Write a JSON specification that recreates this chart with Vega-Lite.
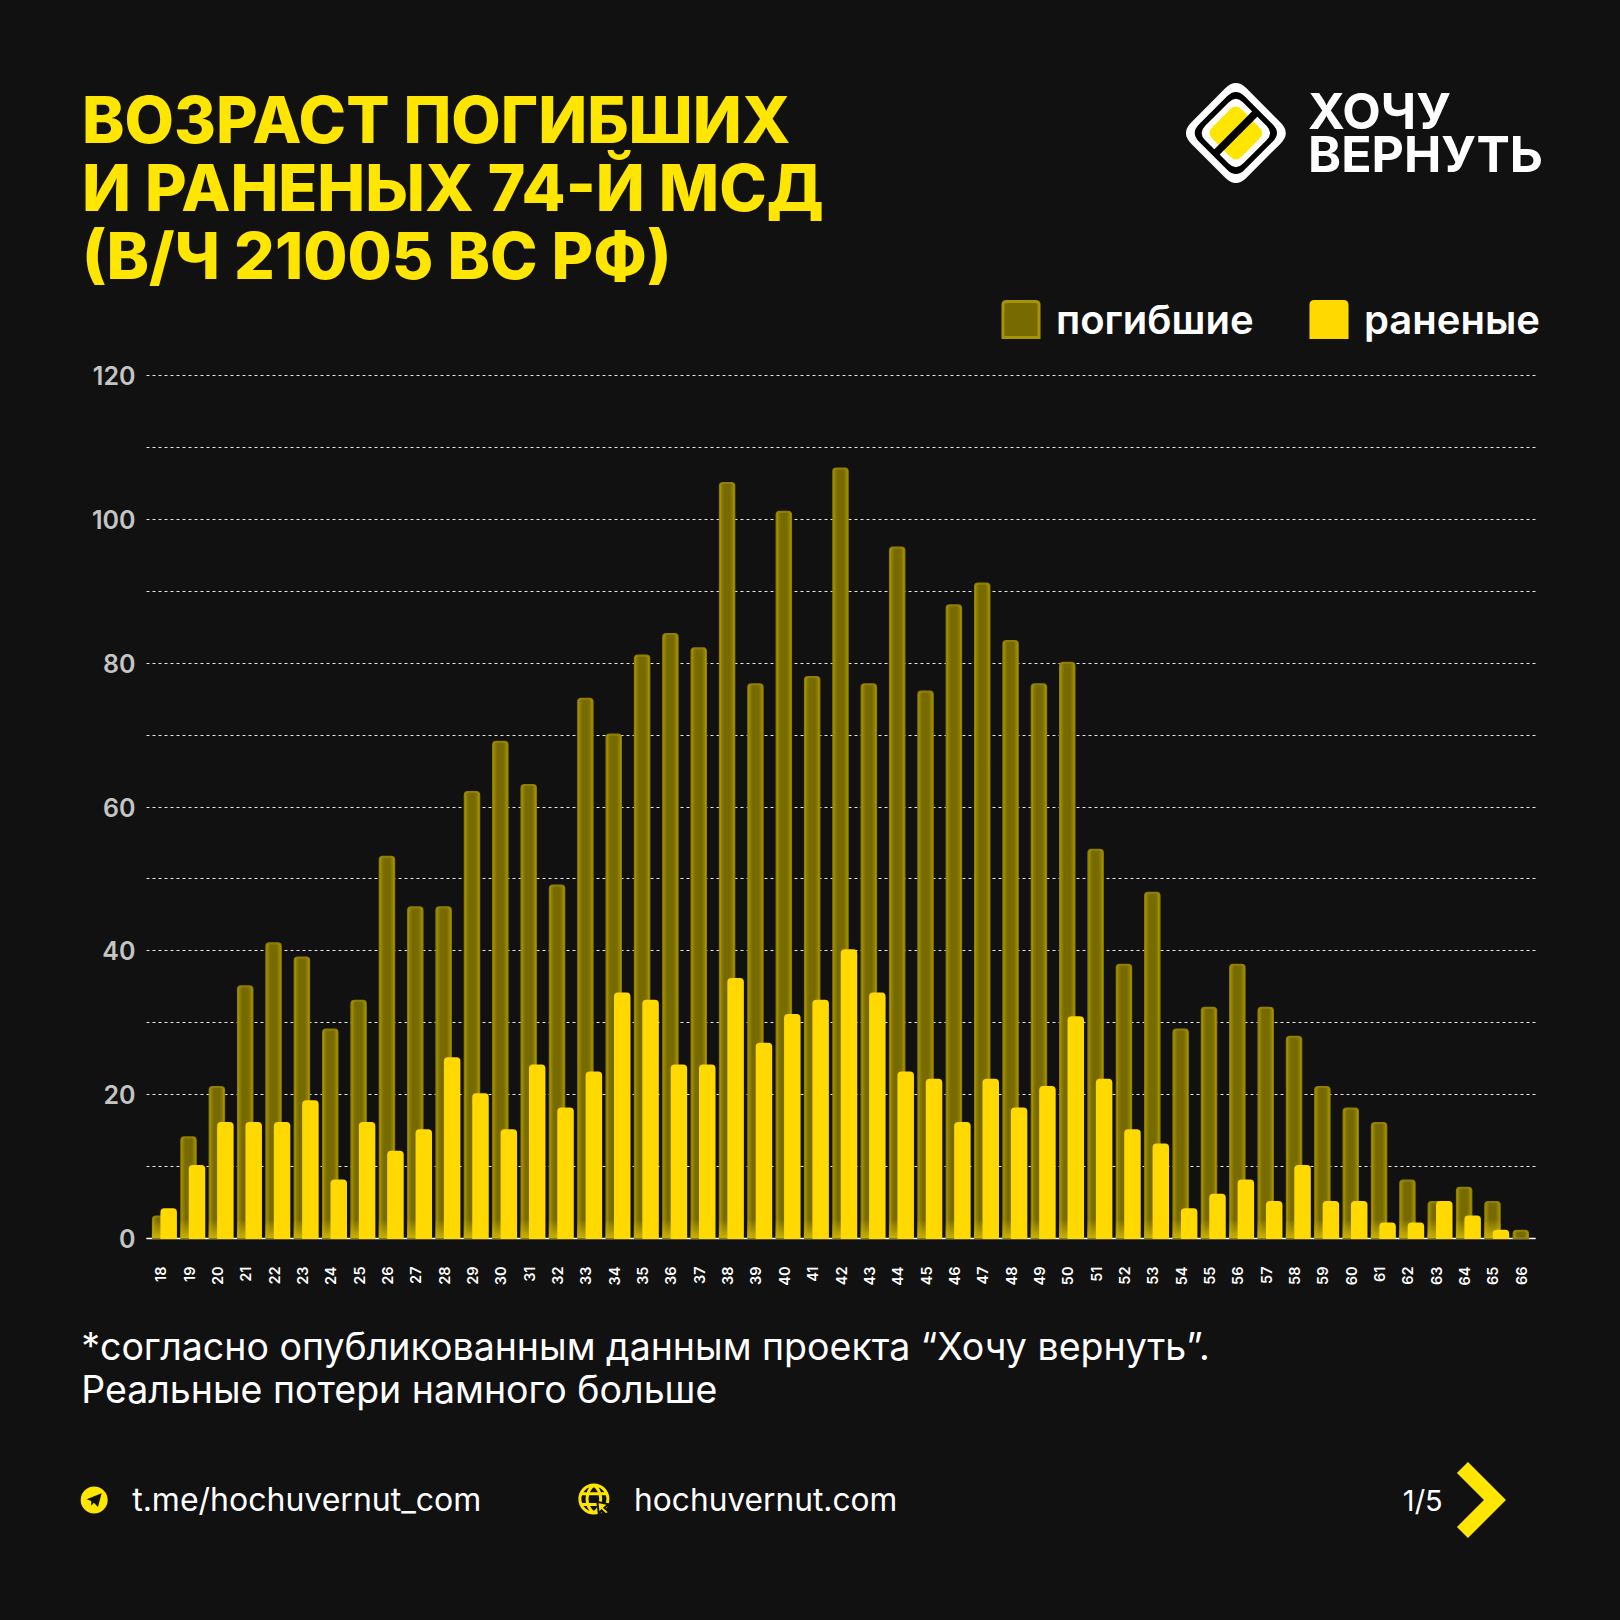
{
  "$schema": "https://vega.github.io/schema/vega-lite/v6.json",
  "width": 1389,
  "height": 863,
  "autosize": "none",
  "padding": {"left": 146, "top": 375, "right": 85, "bottom": 382},
  "background": "#111111",
  "config": {"view": {"stroke": null}, "font": "Inter"},
  "title": {
    "text": ["ВОЗРАСТ ПОГИБШИХ", "И РАНЕНЫХ 74-Й МСД", "(В/Ч 21005 ВС РФ)"],
    "anchor": "start", "frame": "group", "orient": "top", "align": "left",
    "dx": -64, "offset": -209, "color": "#FFE600", "font": "Inter",
    "fontSize": 64, "fontWeight": 800, "lineHeight": 68
  },
  "data": {"values": [
    {"age": 18, "group": "погибшие", "value": 3}, {"age": 18, "group": "раненые", "value": 4},
    {"age": 19, "group": "погибшие", "value": 14}, {"age": 19, "group": "раненые", "value": 10},
    {"age": 20, "group": "погибшие", "value": 21}, {"age": 20, "group": "раненые", "value": 16},
    {"age": 21, "group": "погибшие", "value": 35}, {"age": 21, "group": "раненые", "value": 16},
    {"age": 22, "group": "погибшие", "value": 41}, {"age": 22, "group": "раненые", "value": 16},
    {"age": 23, "group": "погибшие", "value": 39}, {"age": 23, "group": "раненые", "value": 19},
    {"age": 24, "group": "погибшие", "value": 29}, {"age": 24, "group": "раненые", "value": 8},
    {"age": 25, "group": "погибшие", "value": 33}, {"age": 25, "group": "раненые", "value": 16},
    {"age": 26, "group": "погибшие", "value": 53}, {"age": 26, "group": "раненые", "value": 12},
    {"age": 27, "group": "погибшие", "value": 46}, {"age": 27, "group": "раненые", "value": 15},
    {"age": 28, "group": "погибшие", "value": 46}, {"age": 28, "group": "раненые", "value": 25},
    {"age": 29, "group": "погибшие", "value": 62}, {"age": 29, "group": "раненые", "value": 20},
    {"age": 30, "group": "погибшие", "value": 69}, {"age": 30, "group": "раненые", "value": 15},
    {"age": 31, "group": "погибшие", "value": 63}, {"age": 31, "group": "раненые", "value": 24},
    {"age": 32, "group": "погибшие", "value": 49}, {"age": 32, "group": "раненые", "value": 18},
    {"age": 33, "group": "погибшие", "value": 75}, {"age": 33, "group": "раненые", "value": 23},
    {"age": 34, "group": "погибшие", "value": 70}, {"age": 34, "group": "раненые", "value": 34},
    {"age": 35, "group": "погибшие", "value": 81}, {"age": 35, "group": "раненые", "value": 33},
    {"age": 36, "group": "погибшие", "value": 84}, {"age": 36, "group": "раненые", "value": 24},
    {"age": 37, "group": "погибшие", "value": 82}, {"age": 37, "group": "раненые", "value": 24},
    {"age": 38, "group": "погибшие", "value": 105}, {"age": 38, "group": "раненые", "value": 36},
    {"age": 39, "group": "погибшие", "value": 77}, {"age": 39, "group": "раненые", "value": 27},
    {"age": 40, "group": "погибшие", "value": 101}, {"age": 40, "group": "раненые", "value": 31},
    {"age": 41, "group": "погибшие", "value": 78}, {"age": 41, "group": "раненые", "value": 33},
    {"age": 42, "group": "погибшие", "value": 107}, {"age": 42, "group": "раненые", "value": 40},
    {"age": 43, "group": "погибшие", "value": 77}, {"age": 43, "group": "раненые", "value": 34},
    {"age": 44, "group": "погибшие", "value": 96}, {"age": 44, "group": "раненые", "value": 23},
    {"age": 45, "group": "погибшие", "value": 76}, {"age": 45, "group": "раненые", "value": 22},
    {"age": 46, "group": "погибшие", "value": 88}, {"age": 46, "group": "раненые", "value": 16},
    {"age": 47, "group": "погибшие", "value": 91}, {"age": 47, "group": "раненые", "value": 22},
    {"age": 48, "group": "погибшие", "value": 83}, {"age": 48, "group": "раненые", "value": 18},
    {"age": 49, "group": "погибшие", "value": 77}, {"age": 49, "group": "раненые", "value": 21},
    {"age": 50, "group": "погибшие", "value": 80}, {"age": 50, "group": "раненые", "value": 30.7},
    {"age": 51, "group": "погибшие", "value": 54}, {"age": 51, "group": "раненые", "value": 22},
    {"age": 52, "group": "погибшие", "value": 38}, {"age": 52, "group": "раненые", "value": 15},
    {"age": 53, "group": "погибшие", "value": 48}, {"age": 53, "group": "раненые", "value": 13},
    {"age": 54, "group": "погибшие", "value": 29}, {"age": 54, "group": "раненые", "value": 4},
    {"age": 55, "group": "погибшие", "value": 32}, {"age": 55, "group": "раненые", "value": 6},
    {"age": 56, "group": "погибшие", "value": 38}, {"age": 56, "group": "раненые", "value": 8},
    {"age": 57, "group": "погибшие", "value": 32}, {"age": 57, "group": "раненые", "value": 5},
    {"age": 58, "group": "погибшие", "value": 28}, {"age": 58, "group": "раненые", "value": 10},
    {"age": 59, "group": "погибшие", "value": 21}, {"age": 59, "group": "раненые", "value": 5},
    {"age": 60, "group": "погибшие", "value": 18}, {"age": 60, "group": "раненые", "value": 5},
    {"age": 61, "group": "погибшие", "value": 16}, {"age": 61, "group": "раненые", "value": 2},
    {"age": 62, "group": "погибшие", "value": 8}, {"age": 62, "group": "раненые", "value": 2},
    {"age": 63, "group": "погибшие", "value": 5}, {"age": 63, "group": "раненые", "value": 5},
    {"age": 64, "group": "погибшие", "value": 7}, {"age": 64, "group": "раненые", "value": 3},
    {"age": 65, "group": "погибшие", "value": 5}, {"age": 65, "group": "раненые", "value": 1},
    {"age": 66, "group": "погибшие", "value": 1}
  ]},
  "layer": [
    {
      "transform": [{"filter": "datum.group == 'погибшие'"}],
      "mark": {"type": "bar", "width": 14.5, "stroke": "#8f7e00", "strokeWidth": 2, "cornerRadiusTopLeft": 3, "cornerRadiusTopRight": 3},
      "encoding": {
        "x": {
          "field": "age", "type": "ordinal",
          "scale": {"paddingInner": 0, "paddingOuter": 0},
          "axis": {
            "title": null, "labelAngle": -90, "labelAlign": "right", "labelBaseline": "middle",
            "labelColor": "#ffffff", "labelFont": "Inter", "labelFontSize": 14.5, "labelFontWeight": 600,
            "labelPadding": 28, "labelOffset": 2, "ticks": false, "domainColor": "#ffffff", "domainWidth": 1.5, "grid": false
          }
        },
        "y": {
          "field": "value", "type": "quantitative",
          "scale": {"domain": [0, 120], "nice": false},
          "axis": {
            "title": null, "values": [0, 10, 20, 30, 40, 50, 60, 70, 80, 90, 100, 110, 120],
            "labelExpr": "datum.value % 20 == 0 ? datum.label : ''",
            "labelColor": "#c4c4c4", "labelFont": "Inter", "labelFontSize": 25, "labelFontWeight": 600,
            "labelPadding": 11, "labelOffset": 1.5, "ticks": false, "domain": false,
            "grid": true, "gridColor": "#e6e6e6", "gridDash": [3, 3], "gridWidth": 1.2
          }
        },
        "color": {
          "field": "group", "type": "nominal",
          "scale": {"domain": ["погибшие", "раненые"], "range": ["#776a00", "#FFD900"]},
          "legend": {
            "title": null, "orient": "none", "legendX": 855, "legendY": -76, "direction": "horizontal",
            "symbolType": "M-1,1 L-1,-0.8 Q-1,-1 -0.8,-1 L0.8,-1 Q1,-1 1,-0.8 L1,1 Z",
            "symbolSize": 1300, "symbolOpacity": 1,
            "labelFont": "Inter", "labelFontSize": 40, "labelFontWeight": 600, "labelColor": "#ffffff",
            "labelOffset": 15, "columnPadding": 50, "labelLimit": 300,
            "encoding": {
              "symbols": {
                "stroke": {"value": {"expr": "datum.value == 'погибшие' ? '#a89400' : '#FFD900'"}},
                "strokeWidth": {"value": 3}
              },
              "labels": {"dy": {"value": 3}}
            }
          }
        }
      }
    },
    {
      "transform": [{"filter": "datum.group == 'погибшие'"}],
      "mark": {"type": "bar", "width": 14.5, "cornerRadiusTopLeft": 3, "cornerRadiusTopRight": 3,
        "color": {"gradient": "linear", "x1": 0, "y1": 0, "x2": 1, "y2": 0, "stops": [
          {"offset": 0, "color": "rgba(190,168,0,0.55)"}, {"offset": 0.3, "color": "rgba(190,168,0,0)"},
          {"offset": 0.7, "color": "rgba(190,168,0,0)"}, {"offset": 1, "color": "rgba(190,168,0,0.55)"}
        ]}},
      "encoding": {
        "x": {"field": "age", "type": "ordinal"},
        "y": {"field": "value", "type": "quantitative"}
      }
    },
    {
      "transform": [{"filter": "datum.group == 'погибшие' && datum.value >= 3"}],
      "mark": {"type": "bar", "width": 16.5, "color": {"gradient": "linear", "x1": 0, "y1": 0, "x2": 0, "y2": 1, "stops": [
        {"offset": 0, "color": "rgba(200,176,0,0)"}, {"offset": 1, "color": "rgba(200,176,0,1)"}
      ]}},
      "encoding": {
        "x": {"field": "age", "type": "ordinal"},
        "y": {"datum": 2.6, "type": "quantitative"},
        "y2": {"datum": 0}
      }
    },
    {
      "transform": [{"filter": "datum.group == 'раненые'"}],
      "mark": {"type": "bar", "width": 14.5, "xOffset": 8.5, "stroke": "#FFD900", "strokeWidth": 2, "cornerRadiusTopLeft": 3, "cornerRadiusTopRight": 3},
      "encoding": {
        "x": {"field": "age", "type": "ordinal"},
        "y": {"field": "value", "type": "quantitative"},
        "color": {"field": "group", "type": "nominal"}
      }
    },
    {
      "data": {"values": [{"label": "ХОЧУ"}]},
      "mark": {"type": "text", "align": "left", "baseline": "alphabetic", "dx": 14, "font": "Inter", "fontSize": 50, "fontWeight": 700, "color": "#ffffff"},
      "encoding": {"x": {"datum": 58, "type": "ordinal"}, "y": {"datum": 154.2, "type": "quantitative"}, "text": {"field": "label"}}
    },
    {
      "data": {"values": [{"label": "ВЕРНУТЬ"}]},
      "mark": {"type": "text", "align": "left", "baseline": "alphabetic", "dx": 14, "font": "Inter", "fontSize": 50, "fontWeight": 700, "color": "#ffffff"},
      "encoding": {"x": {"datum": 58, "type": "ordinal"}, "y": {"datum": 148.2, "type": "quantitative"}, "text": {"field": "label"}}
    },
    {
      "data": {"values": [{"label": "*согласно опубликованным данным проекта “Хочу вернуть”."}]},
      "mark": {"type": "text", "align": "left", "baseline": "alphabetic", "dx": -79, "font": "Inter", "fontSize": 37.5, "fontWeight": 400, "color": "#ffffff"},
      "encoding": {"x": {"datum": 18, "type": "ordinal"}, "y": {"datum": -16.96, "type": "quantitative"}, "text": {"field": "label"}}
    },
    {
      "data": {"values": [{"label": "Реальные потери намного больше"}]},
      "mark": {"type": "text", "align": "left", "baseline": "alphabetic", "dx": -79, "font": "Inter", "fontSize": 37.5, "fontWeight": 400, "color": "#ffffff"},
      "encoding": {"x": {"datum": 18, "type": "ordinal"}, "y": {"datum": -22.94, "type": "quantitative"}, "text": {"field": "label"}}
    },
    {
      "data": {"values": [{"label": "t.me/hochuvernut_com"}]},
      "mark": {"type": "text", "align": "left", "baseline": "alphabetic", "dx": -28, "font": "Inter", "fontSize": 32, "fontWeight": 400, "color": "#ffffff"},
      "encoding": {"x": {"datum": 18, "type": "ordinal"}, "y": {"datum": -37.9, "type": "quantitative"}, "text": {"field": "label"}}
    },
    {
      "data": {"values": [{"label": "hochuvernut.com"}]},
      "mark": {"type": "text", "align": "left", "baseline": "alphabetic", "dx": -8, "font": "Inter", "fontSize": 31.7, "fontWeight": 400, "color": "#ffffff"},
      "encoding": {"x": {"datum": 35, "type": "ordinal"}, "y": {"datum": -37.9, "type": "quantitative"}, "text": {"field": "label"}}
    },
    {
      "data": {"values": [{"label": "1/5"}]},
      "mark": {"type": "text", "align": "left", "baseline": "alphabetic", "dx": -4.6, "font": "Inter", "fontSize": 29, "fontWeight": 400, "color": "#ffffff"},
      "encoding": {"x": {"datum": 62, "type": "ordinal"}, "y": {"datum": -37.9, "type": "quantitative"}, "text": {"field": "label"}}
    },
    {
      "data": {"values": [{"part": "chevron"}]},
      "mark": {"type": "point", "filled": true, "opacity": 1, "size": 5776, "xOffset": -11, "color": "#FFE600",
        "shape": "M-0.355,-1 L0.645,0 L-0.355,1 L-0.645,0.71 L0.066,0 L-0.645,-0.71 Z"},
      "encoding": {"x": {"datum": 65, "type": "ordinal"}, "y": {"datum": -36.43, "type": "quantitative"}}
    },
    {
      "data": {"values": [{"part": "telegram circle"}]},
      "mark": {"type": "point", "filled": true, "opacity": 1, "size": 729, "xOffset": -66, "color": "#FFE600", "shape": "circle"},
      "encoding": {"x": {"datum": 18, "type": "ordinal"}, "y": {"datum": -36.43, "type": "quantitative"}}
    },
    {
      "data": {"values": [{"part": "telegram plane"}]},
      "mark": {"type": "point", "filled": true, "opacity": 1, "size": 729, "xOffset": -66, "color": "#111111",
        "shape": "M0.55,-0.5 L0.28,0.52 L-0.02,0.2 L-0.22,0.42 L-0.22,0.08 L-0.55,-0.05 Z"},
      "encoding": {"x": {"datum": 18, "type": "ordinal"}, "y": {"datum": -36.43, "type": "quantitative"}}
    },
    {
      "data": {"values": [{"part": "globe"}]},
      "mark": {"type": "point", "filled": false, "opacity": 1, "size": 784, "xOffset": 8.5, "stroke": "#FFE600", "strokeWidth": 3,
        "shape": "M-1,0 A1,1 0 1,1 1,0 A1,1 0 1,1 -1,0 Z M0,-1 C-0.65,-0.5 -0.65,0.5 0,1 M0,-1 C0.65,-0.5 0.65,0.5 0,1 M-0.9,-0.38 L0.9,-0.38 M-0.9,0.38 L0.9,0.38"},
      "encoding": {"x": {"datum": 33, "type": "ordinal"}, "y": {"datum": -36.3, "type": "quantitative"}}
    },
    {
      "data": {"values": [{"part": "globe cursor"}]},
      "mark": {"type": "point", "filled": true, "opacity": 1, "size": 784, "xOffset": 8.5, "color": "#FFE600", "stroke": "#111111", "strokeWidth": 2,
        "shape": "M0.25,0.2 L1.05,0.38 L0.75,0.62 L1.1,0.95 L0.85,1.1 L0.55,0.8 L0.35,1.05 Z"},
      "encoding": {"x": {"datum": 33, "type": "ordinal"}, "y": {"datum": -36.3, "type": "quantitative"}}
    },
    {
      "data": {"values": [{"part": "logo outer"}]},
      "mark": {"type": "point", "filled": true, "opacity": 1, "size": 11290, "xOffset": -1.5, "color": "#ffffff",
        "shape": "M-0.2,-0.84 Q0,-1.04 0.2,-0.84 L0.84,-0.2 Q1.04,0 0.84,0.2 L0.2,0.84 Q0,1.04 -0.2,0.84 L-0.84,0.2 Q-1.04,0 -0.84,-0.2 Z"},
      "encoding": {"x": {"datum": 56, "type": "ordinal"}, "y": {"datum": 153.65, "type": "quantitative"}}
    },
    {
      "data": {"values": [{"part": "logo ring"}]},
      "mark": {"type": "point", "filled": true, "opacity": 1, "size": 7656, "xOffset": -1.5, "color": "#000000",
        "shape": "M-0.2,-0.84 Q0,-1.04 0.2,-0.84 L0.84,-0.2 Q1.04,0 0.84,0.2 L0.2,0.84 Q0,1.04 -0.2,0.84 L-0.84,0.2 Q-1.04,0 -0.84,-0.2 Z"},
      "encoding": {"x": {"datum": 56, "type": "ordinal"}, "y": {"datum": 153.65, "type": "quantitative"}}
    },
    {
      "data": {"values": [{"part": "logo inner"}]},
      "mark": {"type": "point", "filled": true, "opacity": 1, "size": 5315, "xOffset": -1.5, "color": "#ffffff",
        "shape": "M-0.2,-0.84 Q0,-1.04 0.2,-0.84 L0.84,-0.2 Q1.04,0 0.84,0.2 L0.2,0.84 Q0,1.04 -0.2,0.84 L-0.84,0.2 Q-1.04,0 -0.84,-0.2 Z"},
      "encoding": {"x": {"datum": 56, "type": "ordinal"}, "y": {"datum": 153.65, "type": "quantitative"}}
    },
    {
      "data": {"values": [{"part": "logo yellow"}]},
      "mark": {"type": "point", "filled": true, "opacity": 1, "size": 3300, "xOffset": -1.5, "color": "#FFE600",
        "shape": "M-0.22,-0.8 Q0,-1.04 0.22,-0.8 L0.8,-0.22 Q1.04,0 0.8,0.22 L0.22,0.8 Q0,1.04 -0.22,0.8 L-0.8,0.22 Q-1.04,0 -0.8,-0.22 Z"},
      "encoding": {"x": {"datum": 56, "type": "ordinal"}, "y": {"datum": 153.65, "type": "quantitative"}}
    },
    {
      "data": {"values": [{"part": "logo slash"}]},
      "mark": {"type": "point", "filled": true, "opacity": 1, "size": 11290, "xOffset": -1.5, "color": "#000000",
        "shape": "M0.47,-0.37 L0.37,-0.47 L-0.47,0.37 L-0.37,0.47 Z"},
      "encoding": {"x": {"datum": 56, "type": "ordinal"}, "y": {"datum": 153.65, "type": "quantitative"}}
    }
  ]
}
